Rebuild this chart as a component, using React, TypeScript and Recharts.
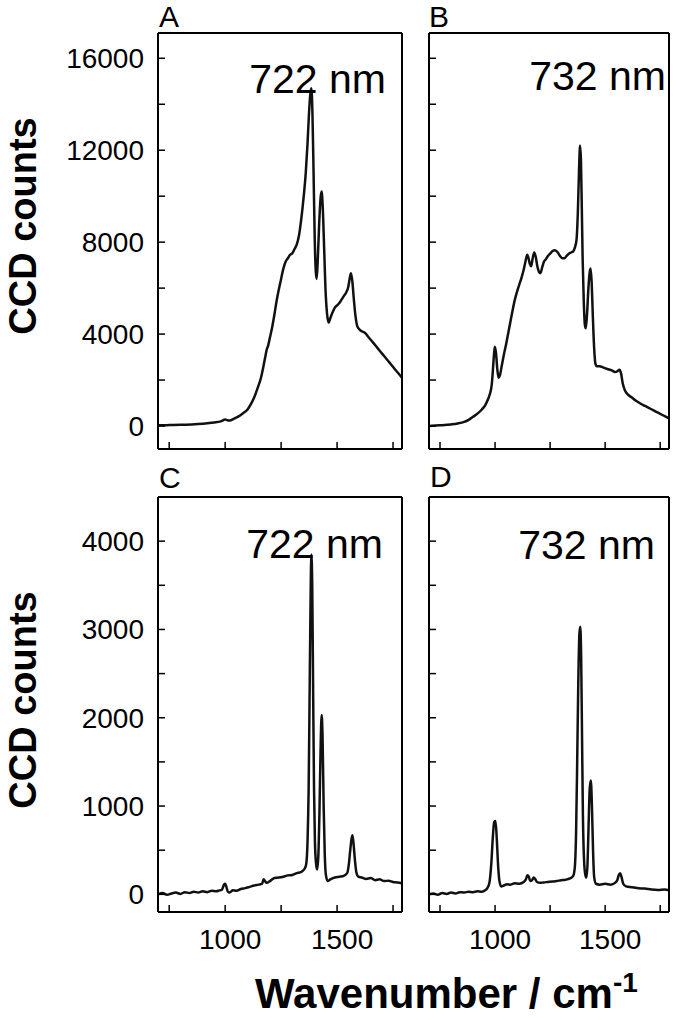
import React from 'react';
import { LineChart, Line, XAxis, YAxis } from 'recharts';

const FONT = '"Liberation Sans", Arial, Helvetica, sans-serif';
const W = 677;
const H = 1020;

// shared x axis (Raman shift / cm-1)
const xDomain = [700, 1790];
const xTicks = [750, 1000, 1250, 1500, 1750];
const xTickLabels = [1000, 1500];

// top row (raw spectra)
const yDomainTop = [-1000, 17100];
const yTicksTop = [0, 2000, 4000, 6000, 8000, 10000, 12000, 14000, 16000];
const yTickLabelsTop = [0, 4000, 8000, 12000, 16000];

// bottom row (processed spectra)
const yDomainBottom = [-200, 4500];
const yTicksBottom = [0, 500, 1000, 1500, 2000, 2500, 3000, 3500, 4000];
const yTickLabelsBottom = [0, 1000, 2000, 3000, 4000];

const panelLetters = ['A', 'B', 'C', 'D'];
const excitationLabels = ['722 nm', '732 nm', '722 nm', '732 nm'];

// Panel A – 722 nm raw
const wavenumbersA = [700, 750, 800, 850, 900, 950, 980, 1000, 1010, 1020, 1040, 1060, 1080, 1100, 1115, 1130, 1145, 1160, 1170, 1180, 1185, 1192, 1200, 1210, 1220, 1230, 1240, 1250, 1260, 1270, 1280, 1290, 1300, 1310, 1320, 1330, 1340, 1350, 1360, 1368, 1374, 1380, 1385, 1390, 1395, 1400, 1405, 1409, 1414, 1420, 1426, 1431, 1436, 1442, 1448, 1455, 1462, 1470, 1480, 1490, 1500, 1510, 1520, 1530, 1540, 1550, 1556, 1562, 1568, 1575, 1582, 1590, 1600, 1615, 1625, 1640, 1660, 1680, 1700, 1720, 1740, 1760, 1780, 1790];
const countsA = [30, 40, 50, 70, 100, 150, 200, 280, 250, 240, 320, 420, 560, 720, 950, 1250, 1650, 2100, 2550, 3050, 3300, 3500, 3850, 4300, 4850, 5450, 5950, 6400, 6850, 7150, 7300, 7450, 7520, 7700, 7900, 8300, 9000, 9900, 11000, 12300, 13500, 14400, 14700, 13600, 11000, 8200, 6700, 6400, 7300, 8800, 9900, 10200, 9500, 7800, 6000, 4900, 4500, 4700, 4950, 5150, 5250, 5350, 5500, 5650, 5800, 6050, 6400, 6650, 6300, 5500, 4800, 4350, 4200, 4100, 4050, 3870, 3640, 3400, 3160, 2930, 2690, 2450, 2220, 2100];

// Panel B – 732 nm raw
const wavenumbersB = [700, 750, 800, 830, 860, 880, 900, 920, 940, 955, 965, 975, 985, 990, 995, 999, 1004, 1010, 1016, 1022, 1030, 1040, 1050, 1060, 1070, 1080, 1090, 1100, 1110, 1120, 1130, 1138, 1146, 1152, 1158, 1164, 1170, 1178, 1185, 1192, 1200, 1206, 1214, 1222, 1230, 1240, 1250, 1260, 1272, 1285, 1295, 1305, 1315, 1325, 1335, 1345, 1355, 1362, 1370, 1376, 1381, 1386, 1390, 1394, 1398, 1403, 1408, 1412, 1418, 1424, 1430, 1434, 1439, 1444, 1450, 1456, 1462, 1475, 1490, 1510, 1530, 1545, 1555, 1565, 1572, 1580, 1590, 1600, 1620, 1640, 1660, 1680, 1700, 1720, 1740, 1760, 1790];
const countsB = [0, 30, 70, 110, 180, 270, 400, 540, 720, 900, 1100, 1350, 1800, 2400, 3100, 3450, 3200, 2500, 2100, 2200, 2600, 3100, 3550, 4050, 4550, 5050, 5500, 5850, 6150, 6450, 6800, 7150, 7450, 7300, 7050, 6950, 7250, 7550, 7350, 6950, 6700, 6650, 6900, 7150, 7250, 7400, 7500, 7600, 7650, 7550, 7400, 7300, 7300, 7400, 7500, 7550, 7600, 7750, 8100, 9300, 11000, 12200, 11600, 9500, 7200, 5400, 4400, 4250, 4900, 6000, 6700, 6850, 6200, 4800, 3400, 2700, 2600, 2600, 2550, 2480, 2420, 2350, 2380, 2450, 2300, 1850, 1550, 1400, 1250, 1100, 980, 880, 780, 680, 580, 480, 330];

// Panel C – 722 nm processed
const wavenumbersC = [700, 720, 740, 760, 780, 800, 820, 840, 860, 880, 900, 920, 940, 960, 975, 985, 995, 1000, 1005, 1012, 1020, 1035, 1050, 1070, 1090, 1110, 1130, 1150, 1165, 1172, 1178, 1185, 1200, 1220, 1240, 1260, 1280, 1300, 1320, 1340, 1355, 1362, 1368, 1373, 1377, 1381, 1385, 1389, 1393, 1397, 1401, 1406, 1411, 1416, 1421, 1426, 1431, 1435, 1440, 1445, 1450, 1458, 1470, 1490, 1510, 1530, 1545, 1552, 1558, 1564, 1569, 1574, 1580, 1586, 1595, 1610, 1630, 1650, 1670, 1690, 1710, 1730, 1750, 1770, 1790];
const countsC = [0, 15, -5, 10, 20, 5, 25, 15, 30, 20, 35, 25, 40, 35, 45, 50, 110, 120, 90, 30, 20, 45, 40, 60, 70, 85, 100, 110, 120, 170, 150, 130, 150, 185, 190, 200, 215, 220, 240, 255, 290, 340, 600, 1200, 2200, 3200, 3850, 3500, 2300, 1200, 600, 350, 280, 420, 900, 1600, 2030, 1800, 1000, 450, 220, 150, 170, 190, 200, 210, 240, 330, 480, 620, 670, 560, 380, 250, 200, 190, 175, 185, 160, 170, 150, 155, 140, 135, 125];

// Panel D – 732 nm processed
const wavenumbersD = [700, 720, 740, 760, 780, 800, 820, 840, 860, 880, 900, 920, 940, 955, 965, 975, 983, 990, 996, 1002, 1008, 1014, 1020, 1028, 1040, 1055, 1070, 1090, 1110, 1130, 1140, 1147, 1153, 1160, 1168, 1175, 1182, 1190, 1205, 1220, 1240, 1260, 1280, 1300, 1320, 1340, 1355, 1362, 1368, 1373, 1378, 1383, 1387, 1391, 1395, 1399, 1404, 1410, 1415, 1420, 1425, 1430, 1435, 1440, 1445, 1450, 1458, 1475, 1500, 1525, 1545, 1555, 1562, 1568, 1575, 1582, 1595, 1620, 1650, 1680, 1710, 1740, 1770, 1790];
const countsD = [0, 10, -5, 15, 5, 20, 10, 25, 20, 30, 25, 35, 30, 45, 70, 140, 350, 650, 820, 830, 620, 320, 150, 90, 100, 115, 110, 125, 120, 140, 170, 215, 200, 150, 160, 190, 175, 140, 130, 135, 140, 145, 150, 160, 165, 180, 210, 300, 700, 1500, 2400, 2950, 3030, 2700, 1800, 900, 400, 220, 190, 350, 800, 1200, 1290, 1000, 500, 200, 120, 110, 120, 110, 130, 160, 220, 240, 190, 120, 90, 80, 70, 65, 55, 50, 55, 45];

type Box = { l: number; t: number; r: number; b: number };

const boxes: Box[] = [
  { l: 158, t: 33, r: 402, b: 449 },
  { l: 429, t: 33, r: 669, b: 449 },
  { l: 158, t: 497, r: 402, b: 912 },
  { l: 429, t: 497, r: 669, b: 912 },
];

const axisLineStyle = { stroke: '#000', strokeWidth: 2 };
const tickLineStyle = { stroke: '#000', strokeWidth: 1.5 };

const makeXTick = (show: boolean) => (props: any) => {
  const { x, y, payload } = props;
  if (!show || !xTickLabels.includes(payload.value)) return <g />;
  return (
    <text x={x + 5} y={y} textAnchor="middle" fontSize={28} fontFamily={FONT} fill="#000">
      {payload.value}
    </text>
  );
};

const makeYTick = (show: boolean, labels: number[]) => (props: any) => {
  const { x, y, payload } = props;
  if (!show || !labels.includes(payload.value)) return <g />;
  return (
    <text x={x} y={y} dy="0.35em" textAnchor="end" fontSize={28} fontFamily={FONT} fill="#000">
      {payload.value}
    </text>
  );
};

function Panel(props: {
  box: Box;
  wn: number[];
  counts: number[];
  yDomain: number[];
  yTicks: number[];
  yLabels: number[];
  showY: boolean;
  showX: boolean;
}) {
  const { box, wn, counts, yDomain, yTicks, yLabels, showY, showX } = props;
  const data = wn.map((w, i) => ({ w, c: counts[i] }));
  return (
    <div style={{ position: 'absolute', left: 0, top: 0 }}>
      <LineChart
        width={W}
        height={H}
        data={data}
        margin={{ left: box.l - 1, top: box.t - 1, right: W - box.r - 1, bottom: H - box.b - 1 }}
      >
        <XAxis
          xAxisId="b"
          dataKey="w"
          type="number"
          domain={xDomain}
          ticks={xTicks}
          allowDataOverflow
          orientation="bottom"
          height={1}
          tickSize={-7}
          tickMargin={44}
          tick={makeXTick(showX)}
          axisLine={axisLineStyle}
          tickLine={tickLineStyle}
          interval={0}
        />
        <XAxis
          xAxisId="t"
          dataKey="w"
          type="number"
          domain={xDomain}
          ticks={xTicks}
          allowDataOverflow
          orientation="top"
          height={1}
          tickSize={-7}
          tick={false}
          axisLine={axisLineStyle}
          tickLine={tickLineStyle}
          interval={0}
        />
        <YAxis
          yAxisId="l"
          type="number"
          domain={yDomain}
          ticks={yTicks}
          allowDataOverflow
          orientation="left"
          width={1}
          tickSize={-7}
          tickMargin={21}
          tick={makeYTick(showY, yLabels)}
          axisLine={axisLineStyle}
          tickLine={tickLineStyle}
          interval={0}
        />
        <YAxis
          yAxisId="r"
          type="number"
          domain={yDomain}
          ticks={yTicks}
          allowDataOverflow
          orientation="right"
          width={1}
          tickSize={-7}
          tick={false}
          axisLine={axisLineStyle}
          tickLine={tickLineStyle}
          interval={0}
        />
        <Line
          xAxisId="b"
          yAxisId="l"
          dataKey="c"
          type="monotone"
          stroke="#111"
          strokeWidth={2.5}
          dot={false}
          isAnimationActive={false}
        />
      </LineChart>
    </div>
  );
}

export default function App() {
  const letterPos = [
    { x: 159, y: 27 },
    { x: 429, y: 27 },
    { x: 159, y: 488 },
    { x: 430, y: 487 },
  ];
  const nmPos = [
    { x: 386, y: 93 },
    { x: 666, y: 90 },
    { x: 383, y: 558 },
    { x: 655, y: 559 },
  ];
  return (
    <div
      style={{
        position: 'absolute',
        left: 0,
        top: 0,
        width: W,
        height: H,
        background: '#fff',
        overflow: 'hidden',
      }}
    >
      <Panel box={boxes[0]} wn={wavenumbersA} counts={countsA} yDomain={yDomainTop} yTicks={yTicksTop} yLabels={yTickLabelsTop} showY={true} showX={false} />
      <Panel box={boxes[1]} wn={wavenumbersB} counts={countsB} yDomain={yDomainTop} yTicks={yTicksTop} yLabels={yTickLabelsTop} showY={false} showX={false} />
      <Panel box={boxes[2]} wn={wavenumbersC} counts={countsC} yDomain={yDomainBottom} yTicks={yTicksBottom} yLabels={yTickLabelsBottom} showY={true} showX={true} />
      <Panel box={boxes[3]} wn={wavenumbersD} counts={countsD} yDomain={yDomainBottom} yTicks={yTicksBottom} yLabels={yTickLabelsBottom} showY={false} showX={true} />
      <svg width={W} height={H} style={{ position: 'absolute', left: 0, top: 0, pointerEvents: 'none' }}>
        {panelLetters.map((t, i) => (
          <text key={'l' + i} x={letterPos[i].x} y={letterPos[i].y} fontSize={30} fontFamily={FONT} fill="#000">
            {t}
          </text>
        ))}
        {excitationLabels.map((t, i) => (
          <text key={'n' + i} x={nmPos[i].x} y={nmPos[i].y} fontSize={41} fontFamily={FONT} fill="#000" textAnchor="end">
            {t}
          </text>
        ))}
        <text x={36} y={226} transform="rotate(-90 36 226)" textAnchor="middle" fontSize={38} fontWeight="bold" fontFamily={FONT} fill="#000">
          CCD counts
        </text>
        <text x={36} y={700} transform="rotate(-90 36 700)" textAnchor="middle" fontSize={38} fontWeight="bold" fontFamily={FONT} fill="#000">
          CCD counts
        </text>
        <text x={255} y={1008} fontSize={42} fontWeight="bold" fontFamily={FONT} fill="#000">
          Wavenumber / cm
          <tspan dy={-16} fontSize={28}>-1</tspan>
        </text>
      </svg>
    </div>
  );
}
